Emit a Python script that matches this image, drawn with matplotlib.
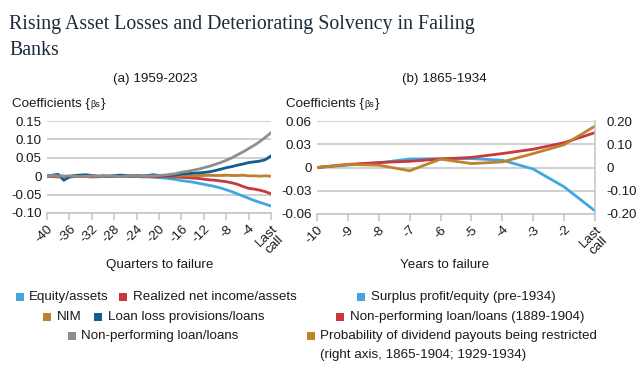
import matplotlib
matplotlib.use("Agg")
import matplotlib.pyplot as plt
from matplotlib.patches import Rectangle
import numpy as np

plt.rcParams['font.family'] = ['Liberation Sans', 'DejaVu Sans']

# ---------------- data ----------------
quarters = list(range(-40, 1))
q_ticks = [-40, -36, -32, -28, -24, -20, -16, -12, -8, -4, 0]
q_ticklabels = ['-40', '-36', '-32', '-28', '-24', '-20', '-16', '-12', '-8', '-4', 'Last\ncall']

equity_assets = [0.000, 0.001, 0.001, 0.000, -0.001, 0.000, 0.001, 0.000, -0.001, -0.002,
                 -0.001, -0.001, 0.000, -0.001, 0.000, 0.000, -0.001, -0.002, -0.002, -0.003,
                 -0.004, -0.005, -0.007, -0.009, -0.012, -0.014, -0.016, -0.019, -0.022, -0.025,
                 -0.028, -0.032, -0.037, -0.042, -0.048, -0.054, -0.060, -0.066, -0.071, -0.076,
                 -0.081]
net_income_assets = [0.000, -0.001, -0.002, -0.001, -0.002, -0.001, 0.000, -0.001, -0.002, -0.001,
                     0.000, -0.001, -0.001, 0.000, -0.001, 0.000, -0.001, 0.000, -0.001, -0.001,
                     -0.001, -0.001, -0.002, -0.002, -0.003, -0.004, -0.005, -0.006, -0.008, -0.010,
                     -0.011, -0.013, -0.015, -0.018, -0.022, -0.028, -0.033, -0.035, -0.038, -0.042,
                     -0.048]
nim = [0.000, 0.001, 0.000, -0.001, 0.000, 0.001, 0.000, 0.000, 0.001, 0.000,
       -0.001, 0.000, 0.001, 0.000, 0.000, 0.001, 0.002, 0.001, 0.000, 0.001,
       0.002, 0.001, 0.000, 0.001, 0.002, 0.002, 0.001, 0.002, 0.002, 0.003,
       0.002, 0.002, 0.003, 0.002, 0.002, 0.003, 0.001, 0.001, 0.000, 0.001,
       0.000]
loan_loss_prov = [0.000, 0.003, 0.005, -0.011, -0.002, 0.002, 0.003, 0.004, 0.002, 0.000,
                  0.001, 0.000, 0.001, 0.003, 0.002, 0.000, 0.001, 0.000, 0.002, 0.004,
                  0.002, 0.001, 0.002, 0.003, 0.006, 0.007, 0.008, 0.009, 0.010, 0.012,
                  0.015, 0.019, 0.023, 0.026, 0.030, 0.033, 0.037, 0.039, 0.041, 0.045,
                  0.055]
npl_loans = [0.000, 0.002, 0.001, 0.000, 0.001, 0.000, -0.001, 0.000, 0.001, 0.000,
             0.000, 0.001, 0.000, -0.001, 0.000, 0.001, 0.000, 0.000, 0.001, 0.001,
             0.002, 0.003, 0.005, 0.007, 0.011, 0.013, 0.016, 0.019, 0.023, 0.027,
             0.032, 0.037, 0.043, 0.050, 0.058, 0.066, 0.075, 0.084, 0.094, 0.106,
             0.118]

years = list(range(-10, 0))
y_ticklabels = ['-10', '-9', '-8', '-7', '-6', '-5', '-4', '-3', '-2', 'Last\ncall']
surplus_profit_equity = [0.000, 0.003, 0.006, 0.011, 0.0115, 0.0115, 0.0094, -0.002, -0.025, -0.056]
npl_1889_1904 = [0.000, 0.004, 0.0064, 0.008, 0.011, 0.013, 0.018, 0.0236, 0.032, 0.045]
dividend_restricted = [0.000, 0.013, 0.010, -0.014, 0.036, 0.017, 0.024, 0.060, 0.098, 0.178]

a_yticks = [-0.10, -0.05, 0, 0.05, 0.10, 0.15]
a_yticklabels = ['-0.10', '-0.05', '0', '0.05', '0.10', '0.15']
b_yticks = [-0.06, -0.03, 0, 0.03, 0.06]
b_yticklabels = ['-0.06', '-0.03', '0', '0.03', '0.06']
b_rticks = [-0.20, -0.10, 0, 0.10, 0.20]
b_rticklabels = ['-0.20', '-0.10', '0', '0.10', '0.20']

# ---------------- style ----------------
C_LB = '#41a7e1'
C_RED = '#c8383c'
C_GOLD = '#c0812f'
C_DB = '#0f5f8e'
C_GRAY = '#8e8e8e'
C_GRID = '#c4c4c4'
C_TXT = '#1a1a1a'
FS = 9.6
LW = 2.0

W, H = 640, 375
fig = plt.figure(figsize=(6.4, 3.75), dpi=100)

def fx(px):
    return px / W

def fy(py):
    return 1 - py / H

# Title
t1 = fig.text(fx(9), fy(29.3), "Rising Asset Losses and Deteriorating Solvency in Failing",
              family=['Liberation Serif', 'DejaVu Serif'], fontsize=14.5, color='#1b2a3c',
              va='baseline', ha='left')
fig.canvas.draw()
w = t1.get_window_extent().width
fsz = 14.5 * 464 / w
t1.set_fontsize(fsz)
fig.text(fx(9), fy(55), "Banks", family=['Liberation Serif', 'DejaVu Serif'], fontsize=fsz,
         color='#1b2a3c', va='baseline', ha='left')


def style_axis(ax):
    for s in ['top', 'left', 'right']:
        ax.spines[s].set_visible(False)
    ax.spines['bottom'].set_color(C_GRID)
    ax.spines['bottom'].set_linewidth(1.1)
    ax.yaxis.grid(True, color=C_GRID, linewidth=1.1)
    ax.set_axisbelow(True)
    ax.tick_params(axis='y', length=0, labelsize=FS, labelcolor=C_TXT, pad=4)
    ax.tick_params(axis='x', length=5, width=1.1, color=C_GRID, labelsize=FS,
                   labelcolor=C_TXT, pad=2, direction='out')


# Panel (a)
ax1 = fig.add_axes([fx(47), fy(213), fx(224), 92 / H])
ax1.plot(quarters, equity_assets, color=C_LB, lw=LW)
ax1.plot(quarters, net_income_assets, color=C_RED, lw=LW)
ax1.plot(quarters, nim, color=C_GOLD, lw=LW)
ax1.plot(quarters, loan_loss_prov, color=C_DB, lw=LW)
ax1.plot(quarters, npl_loans, color=C_GRAY, lw=LW)
ax1.set_xlim(-40, 0)
ax1.set_ylim(-0.10, 0.15)
ax1.set_yticks(a_yticks)
ax1.set_yticklabels(a_yticklabels)
ax1.set_xticks(q_ticks)
ax1.set_xticklabels(q_ticklabels)
style_axis(ax1)

# Panel (b)
ax2 = fig.add_axes([fx(317), fy(214), fx(278), 93 / H])
ax2.plot(years, surplus_profit_equity, color=C_LB, lw=LW)
ax2.plot(years, npl_1889_1904, color=C_RED, lw=LW)
ax2.set_xlim(-10, -1)
ax2.set_ylim(-0.06, 0.06)
ax2.set_yticks(b_yticks)
ax2.set_yticklabels(b_yticklabels)
ax2.set_xticks(years)
ax2.set_xticklabels(y_ticklabels)
style_axis(ax2)

ax2r = ax2.twinx()
ax2r.plot(years, dividend_restricted, color=C_GOLD, lw=LW)
ax2r.set_ylim(-0.20, 0.20)
ax2r.set_yticks(b_rticks)
ax2r.set_yticklabels(b_rticklabels)
for s in ['top', 'left', 'bottom']:
    ax2r.spines[s].set_visible(False)
ax2r.spines['right'].set_color(C_GRID)
ax2r.spines['right'].set_linewidth(1.1)
ax2r.tick_params(axis='y', length=0, labelsize=FS, labelcolor=C_TXT, pad=8)

for ax in (ax1, ax2):
    for lab in ax.get_xticklabels():
        lab.set_rotation(45)
        lab.set_ha('right')
        lab.set_va('top')
        lab.set_rotation_mode('anchor')
        lab.set_multialignment('center')
        lab.set_linespacing(1.0)

# panel titles and labels
fig.text(fx(155), fy(79), "(a) 1959-2023", ha='center', va='center', fontsize=FS, color=C_TXT)
fig.text(fx(444), fy(79), "(b) 1865-1934", ha='center', va='center', fontsize=FS, color=C_TXT)


def coeff_label(xpx):
    t = fig.text(fx(xpx), fy(107), "Coefficients {", ha='left', va='baseline',
                 fontsize=FS, color=C_TXT)
    t2 = fig.text(0, 0, "βs", fontsize=6.5, color=C_TXT)
    fig.canvas.draw()
    bb = t.get_window_extent()
    t2.set_position((bb.x1 / W + 0.5 / W, fy(107)))
    t2.set_va('baseline')
    fig.canvas.draw()
    bb2 = t2.get_window_extent()
    fig.text(bb2.x1 / W + 0.5 / W, fy(107), "}", ha='left', va='baseline', fontsize=FS, color=C_TXT)


coeff_label(12)
coeff_label(286)

fig.text(fx(160), fy(265), "Quarters to failure", ha='center', va='center', fontsize=FS, color=C_TXT)
fig.text(fx(444.5), fy(265), "Years to failure", ha='center', va='center', fontsize=FS, color=C_TXT)

# legend (manual)
legend_items = [
    (16, 29, 297, C_LB, "Equity/assets"),
    (119, 133, 297, C_RED, "Realized net income/assets"),
    (357, 371, 297, C_LB, "Surplus profit/equity (pre-1934)"),
    (43, 57, 316.7, C_GOLD, "NIM"),
    (94, 108, 316.7, C_DB, "Loan loss provisions/loans"),
    (336, 350, 316.7, C_RED, "Non-performing loan/loans (1889-1904)"),
    (68, 81, 335.7, C_GRAY, "Non-performing loan/loans"),
    (307, 320, 335.7, C_GOLD, "Probability of dividend payouts being restricted"),
]
SQ = 8
for sqx, tx, yc, col, lab in legend_items:
    fig.patches.append(Rectangle((fx(sqx), fy(yc + SQ / 2)), SQ / W, SQ / H,
                                 transform=fig.transFigure, facecolor=col, edgecolor='none'))
    fig.text(fx(tx), fy(yc), lab, ha='left', va='center', fontsize=FS, color=C_TXT)
fig.text(fx(320), fy(355), "(right axis, 1865-1904; 1929-1934)", ha='left', va='center',
         fontsize=FS, color=C_TXT)

fig.savefig("out.png", dpi=100)
